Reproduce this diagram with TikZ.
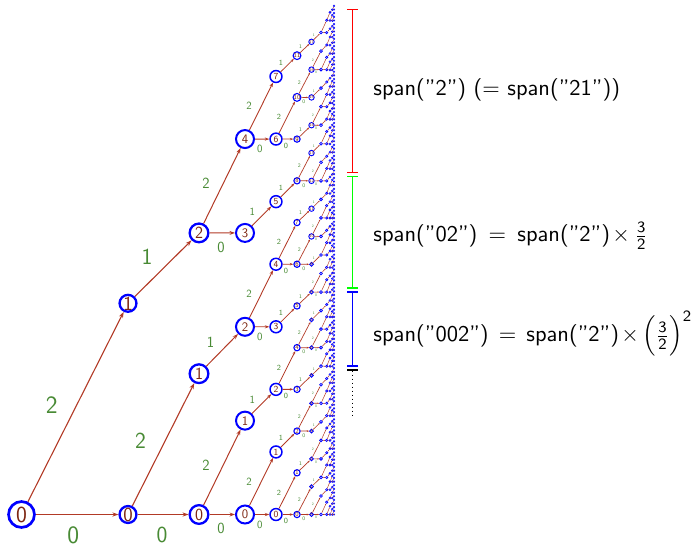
\documentclass[tikz,border=0pt]{standalone}
\usepackage{amsmath}
\usepackage{fontspec}
\usetikzlibrary{arrows.meta}
\definecolor{edgecol}{RGB}{178,58,38}
\definecolor{numcol}{RGB}{125,38,18}
\definecolor{labcol}{RGB}{72,138,52}
\definecolor{nodeblue}{RGB}{0,0,255}
\definecolor{barred}{RGB}{255,0,0}
\definecolor{bargreen}{RGB}{0,255,0}
\definecolor{barblue}{RGB}{0,0,255}
\def\XS{{21.5,128,199,245,276,297,311.5,321,326.7,330,332.3,334}}
\def\MX{{0,1,2,4,7,11,17,26,40,61,92,139}}
\def\RAD{{14.3,9.6,10.5,10,6.7,3.7,2.3,1.8,1.5,1.3,1.2,1.1}}
\def\LW{{2.7,2.3,2.3,2,1.5,1.1,0.9,0.8,0.7,0.6,0.55,0.5}}
\def\NF{{23,20,17,13,9.3,6.2,4.3}}
\def\LF{{25,23,15.5,11,7.8,5.4,3.6}}
\def\LAM{{1,1,0.7,0.5,0.33,0.22,0.15}}
\def\EW{{1.1,1.1,1,0.9,0.8,0.7,0.6,0.5,0.45,0.4,0.35}}
\def\AL{{6,6,5.5,4.5,3.5,2.5,1.8,1.3,1,0.8,0.6}}
\def\OX{{-1.5,-16.5,-23}}
\def\OY{{20.5,-11,-3.5}}
\begin{document}
\begin{tikzpicture}[x=1pt,y=-1pt,
  tnode/.style={circle, draw=nodeblue, fill=white, inner sep=0pt, text=numcol},
  tedge/.style={draw=edgecol},
  elabel/.style={text=labcol, inner sep=0pt},
  spanbar/.style={line width=1.6pt, {Bar[width=11pt,line width=1.6pt]}-{Bar[width=11pt,line width=1.6pt]}, shorten <=1.3pt, shorten >=1.3pt},
  spantext/.style={anchor=base west, inner sep=0pt, scale=2.25, font=\sffamily}]
\useasboundingbox (0,0) rectangle (692,547);
% nodes
\foreach \d in {0,...,11}{
  \pgfmathtruncatemacro\M{\MX[\d]}
  \pgfmathsetmacro\xx{\XS[\d]}
  \pgfmathsetmacro\sp{316.8*(2/3)^\d}
  \pgfmathsetmacro\rr{\RAD[\d]}
  \pgfmathsetmacro\lw{\LW[\d]}
  \pgfmathsetmacro\ms{2*\rr-\lw}
  \ifnum\d<7 \pgfmathsetmacro\nf{\NF[\d]}\else\def\nf{1}\fi
  \foreach \m in {0,...,\M}{
    \pgfmathsetmacro\yy{514.5-\sp*\m}
    \node[tnode, minimum size=\ms pt, line width=\lw pt, font=\sffamily\fontsize{\nf}{\nf}\selectfont] (v-\d-\m) at (\xx,\yy) {\ifnum\d<7 \m\fi};
  }
}
% edges and labels
\foreach \d in {1,...,11}{
  \pgfmathtruncatemacro\pd{\d-1}
  \pgfmathtruncatemacro\M{\MX[\d]}
  \pgfmathsetmacro\ew{\EW[\pd]}
  \pgfmathsetmacro\al{\AL[\pd]}
  \pgfmathsetmacro\aw{0.7*\al}
  \pgfmathsetmacro\xp{\XS[\pd]}
  \pgfmathsetmacro\xc{\XS[\d]}
  \pgfmathsetmacro\spp{316.8*(2/3)^\pd}
  \pgfmathsetmacro\spc{316.8*(2/3)^\d}
  \ifnum\pd<7 \pgfmathsetmacro\lam{\LAM[\pd]}\pgfmathsetmacro\lf{\LF[\pd]}\fi
  \foreach \m in {0,...,\M}{
    \edef\n{\the\numexpr(2*\m-1)/3\relax}
    \edef\a{\the\numexpr2*\m-3*\n\relax}
    \draw[tedge, line width=\ew pt, -{Stealth[length=\al pt, width=\aw pt]}] (v-\pd-\n) -- (v-\d-\m);
    \ifnum\pd<7
      \pgfmathsetmacro\lx{(\xp+\xc)/2+\lam*\OX[\a]}
      \pgfmathsetmacro\ly{514.5-(\spp*\n+\spc*\m)/2+\lam*\OY[\a]}
      \node[elabel, font=\sffamily\fontsize{\lf}{\lf}\selectfont] (l-\d-\m) at (\lx,\ly) {\a};
    \fi
  }
}
% span bars
\coordinate (b0) at (352.5,7.3);
\coordinate (b1) at (352.5,174.5);
\coordinate (b2) at (352.5,290);
\coordinate (b3) at (352.5,368);
\coordinate (b4) at (352.5,415);
\draw[spanbar, barred] (b0) -- (b1);
\draw[spanbar, bargreen] (b1) -- (b2);
\draw[spanbar, barblue] (b2) -- (b3);
\draw[line width=1pt, dash pattern=on 1pt off 3pt, black, {Bar[width=11pt,line width=1.6pt]}-, shorten <=1.3pt] (b3) -- (b4);
% texts
\node[spantext] (s1) at (373,95) {span(”2”) ($=$ span(”21”))};
\node[spantext] (s2) at (373,241.7) {span(”02”)\hspace{5pt}$=$\hspace{5pt}span(”2”)\hspace{1pt}$\times$\hspace{2pt}$\frac{\textsf{3}}{\textsf{2}}$};
\node[spantext] (s3) at (373,341.7) {span(”002”)\hspace{4.5pt}$=$\hspace{4.5pt}span(”2”)\hspace{1pt}$\times$\hspace{1.5pt}$\Bigl(\frac{\textsf{3}}{\textsf{2}}\Bigr)^{\textsf{2}}$};
\end{tikzpicture}
\end{document}
